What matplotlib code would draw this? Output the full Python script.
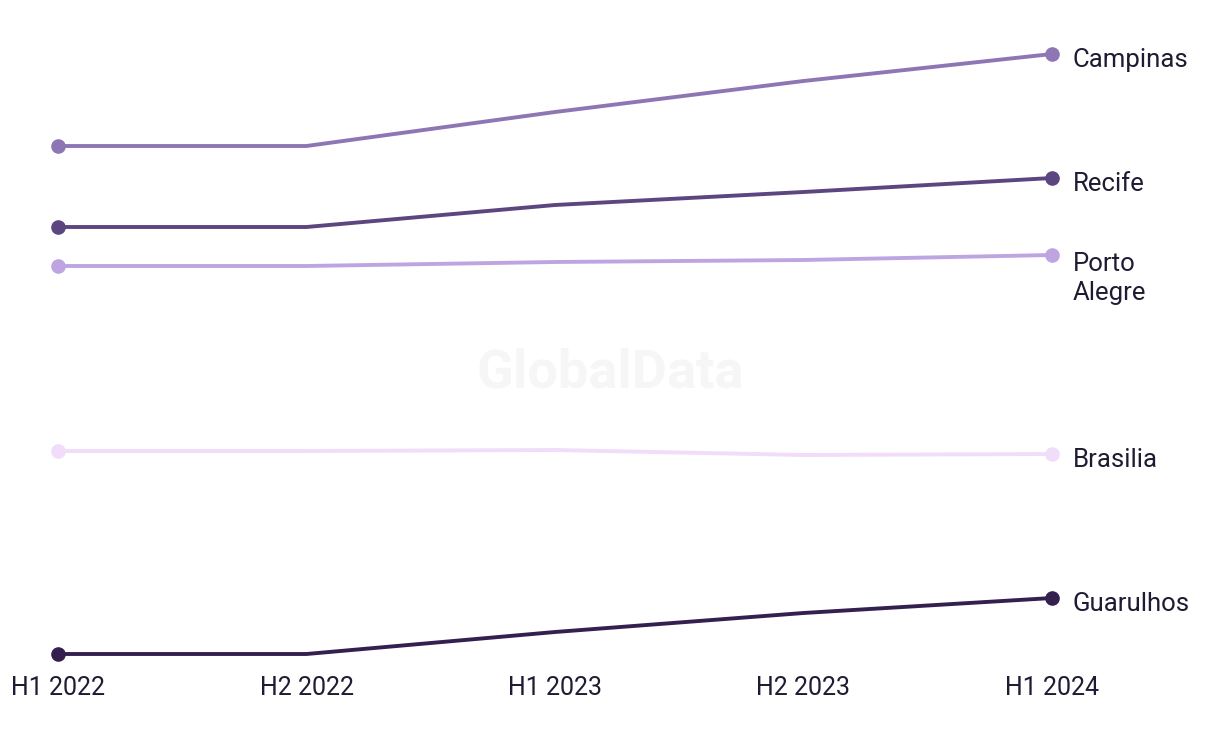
import matplotlib
matplotlib.use('Agg')
import matplotlib.pyplot as plt

# ── Data (index values, no axis shown) ────────────────────────────────────────
periods = ['H1 2022', 'H2 2022', 'H1 2023', 'H2 2023', 'H1 2024']

campinas = [51.4, 51.4, 54.8, 57.9, 60.6]
recife = [43.3, 43.3, 45.5, 46.8, 48.2]
porto_alegre = [39.4, 39.4, 39.8, 40.0, 40.5]
brasilia = [20.9, 20.9, 21.0, 20.5, 20.6]
guarulhos = [0.6, 0.6, 2.8, 4.7, 6.2]

series_names = ['Campinas', 'Recife', 'Porto\nAlegre', 'Brasilia', 'Guarulhos']
series_vals = [campinas, recife, porto_alegre, brasilia, guarulhos]
colors = ['#8e76b4', '#5c467f', '#bea5e2', '#f1dcfa', '#34204f']

TEXT = '#1e1b33'
plt.rcParams['font.family'] = ['Roboto', 'DejaVu Sans']

fig = plt.figure(figsize=(12.2, 7.44), dpi=100)
ax = fig.add_axes([58 / 1220, 1 - 654 / 744, (1052 - 58) / 1220, 600 / 744])

x = list(range(len(periods)))

# watermark
fig.text(610 / 1220, 1 - 373 / 744, 'GlobalData', ha='center', va='center',
         fontsize=39, fontweight='bold', color='#f6f6f6', zorder=0)

for name, vals, col in zip(series_names, series_vals, colors):
    ax.plot(x, vals, '-', color=col, lw=2.8, solid_capstyle='round', clip_on=False)
    ax.plot([x[0], x[-1]], [vals[0], vals[-1]], 'o', color=col, ms=9.5, clip_on=False)
    if '\n' in name:
        # two-line label: first line sits roughly level with the point
        ax.annotate(name, xy=(x[-1], vals[-1]), xytext=(15, 2),
                    textcoords='offset points', va='top',
                    fontsize=18.5, color=TEXT, linespacing=1.25)
    else:
        ax.annotate(name, xy=(x[-1], vals[-1]), xytext=(15, -4),
                    textcoords='offset points', va='center',
                    fontsize=18.5, color=TEXT)

ax.set_xlim(0, 4)
ax.set_ylim(0.6, 60.6)
ax.set_xticks(x)
ax.set_xticklabels(periods, fontsize=18, color=TEXT)
ax.tick_params(axis='x', length=0, pad=16)
ax.set_yticks([])
for s in ax.spines.values():
    s.set_visible(False)

plt.savefig('out.png', dpi=100)
